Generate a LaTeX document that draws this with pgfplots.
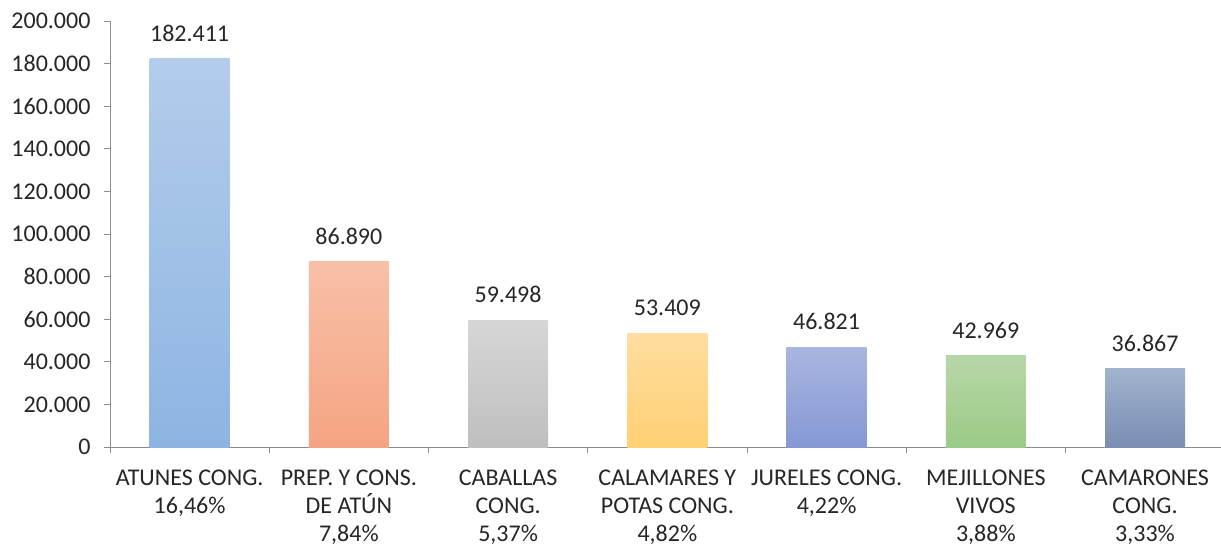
\documentclass[border=0pt]{standalone}
\usepackage{pgfplots}
\pgfplotsset{compat=1.18}
\usepackage{fontspec}
\setmainfont{Carlito}
\definecolor{txt}{HTML}{262626}
\definecolor{axc}{HTML}{8C8C8C}
\newcommand\lab{\fontsize{24bp}{28bp}\selectfont}
\pgfplotsset{mybar/.style={ybar, bar width=80bp, bar shift=0pt, draw=none}}
\begin{document}
\begin{tikzpicture}
\begin{axis}[
  at={(0,0)}, anchor=south west,
  scale only axis, width=1114.75bp, height=426bp,
  xmin=-0.5, xmax=6.5, ymin=0, ymax=200000,
  axis x line*=bottom, axis y line*=left,
  axis line style={axc, line width=0.8bp},
  ytick={0,20000,...,200000},
  scaled y ticks=false,
  yticklabel style={xshift=-10bp, /pgf/number format/.cd, fixed, precision=0, 1000 sep={.}},
  /pgf/number format/assume math mode=true,
  tick style={axc, line width=0.8bp},
  tick align=outside,
  major tick length=6bp,
  xtick={-0.5,0.5,1.5,2.5,3.5,4.5,5.5,6.5},
  x tick label as interval,
  xticklabels={{ATUNES CONG.\\16,46\%},{PREP. Y CONS.\\DE ATÚN\\7,84\%},{CABALLAS\\CONG.\\5,37\%},{CALAMARES Y\\POTAS CONG.\\4,82\%},{JURELES CONG.\\4,22\%},{MEJILLONES\\VIVOS\\3,88\%},{CAMARONES\\CONG.\\3,33\%}},
  xticklabel style={align=center, yshift=-13bp},
  ticklabel style={font=\lab, text=txt},
  nodes near coords={\pgfmathprintnumber[fixed,precision=0,1000 sep={.},assume math mode=true]{\pgfplotspointmeta}},
  every node near coord/.append style={font=\lab, text=txt, anchor=south, inner sep=0pt, yshift=17bp},
  clip=false,
]
\addplot[mybar, top color={rgb,255:red,179;green,205;blue,235}, bottom color={rgb,255:red,142;green,180;blue,227}] coordinates {(0,182411)};
\addplot[mybar, top color={rgb,255:red,248;green,192;blue,168}, bottom color={rgb,255:red,245;green,164;blue,130}] coordinates {(1,86890)};
\addplot[mybar, top color={rgb,255:red,214;green,214;blue,214}, bottom color={rgb,255:red,191;green,191;blue,191}] coordinates {(2,59498)};
\addplot[mybar, top color={rgb,255:red,255;green,221;blue,160}, bottom color={rgb,255:red,255;green,209;blue,116}] coordinates {(3,53409)};
\addplot[mybar, top color={rgb,255:red,170;green,182;blue,224}, bottom color={rgb,255:red,133;green,152;blue,213}] coordinates {(4,46821)};
\addplot[mybar, top color={rgb,255:red,183;green,215;blue,168}, bottom color={rgb,255:red,155;green,202;blue,135}] coordinates {(5,42969)};
\addplot[mybar, top color={rgb,255:red,162;green,179;blue,206}, bottom color={rgb,255:red,122;green,141;blue,178}] coordinates {(6,36867)};
\end{axis}
\pgfresetboundingbox
\path (-110bp,-100bp) rectangle (1111bp,447bp);
\end{tikzpicture}
\end{document}
